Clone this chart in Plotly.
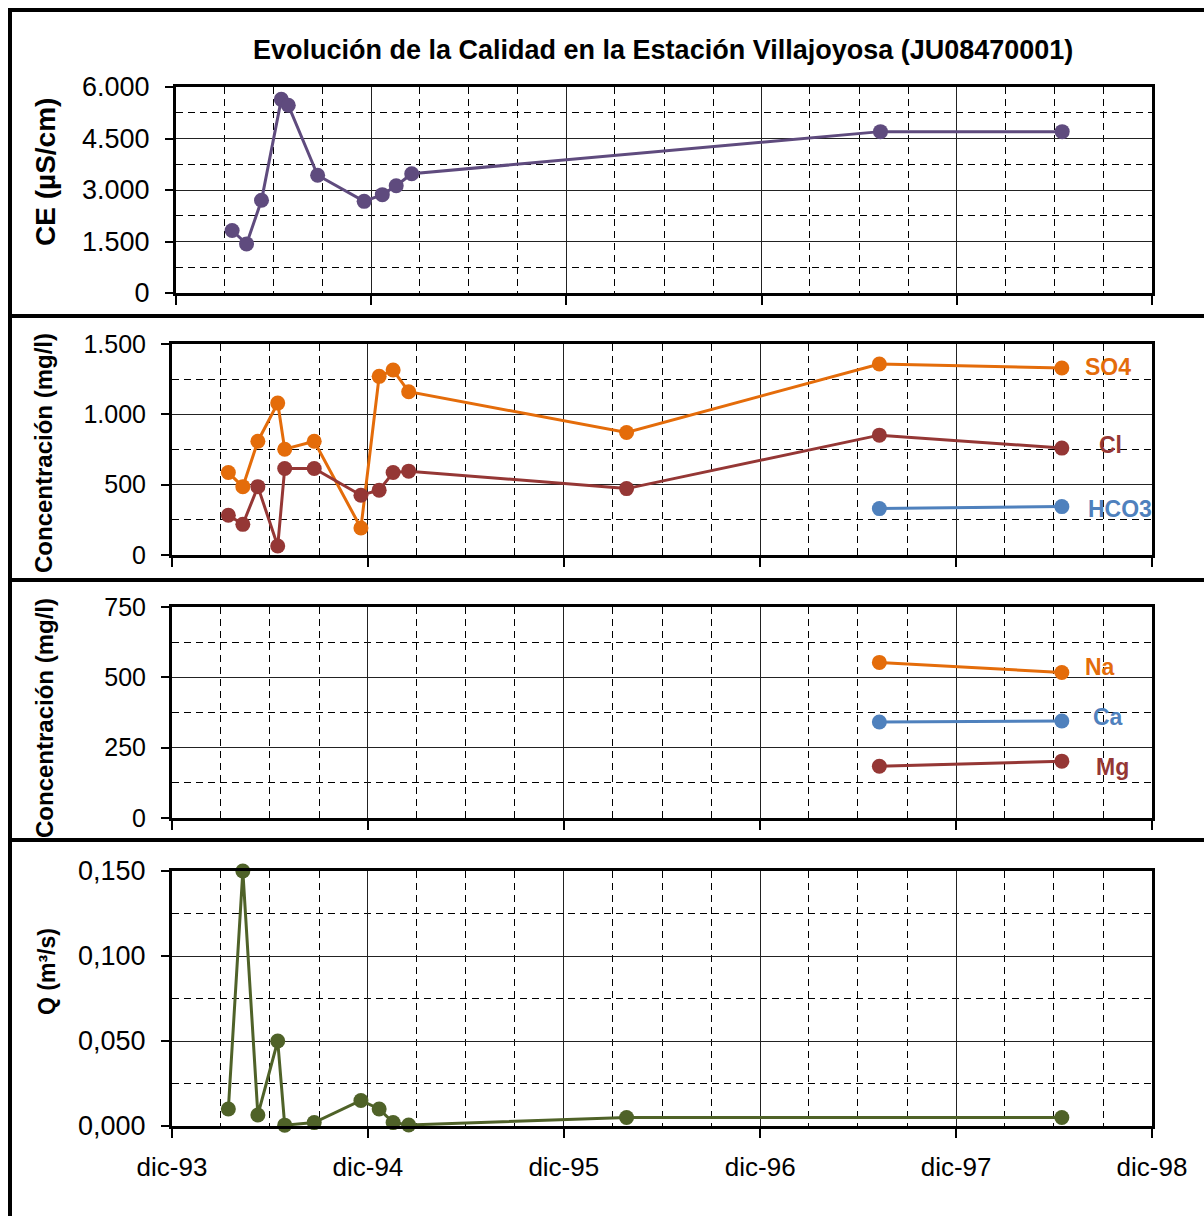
import plotly.graph_objects as go

# ---------------- data ----------------
dates_early = ['1994-03-16', '1994-04-12', '1994-05-10', '1994-06-16', '1994-06-29',
               '1994-08-23', '1994-11-18', '1994-12-22', '1995-01-17', '1995-02-15']
d_1996 = '1996-03-27'
d_1997 = '1997-07-11'
d_1998 = '1998-06-16'

ce_dates = dates_early + [d_1997, d_1998]
ce_vals = [1820, 1430, 2700, 5640, 5470, 3430, 2670, 2865, 3125, 3475, 4700, 4700]

ion_dates = dates_early + [d_1996, d_1997, d_1998]
so4_vals = [586, 486, 809, 1080, 752, 809, 192, 1270, 1315, 1161, 871, 1358, 1329]
cl_vals = [283, 218, 486, 64, 615, 615, 425, 461, 586, 596, 472, 852, 760]
hco3_dates = [d_1997, d_1998]
hco3_vals = [330, 344]

cat_dates = [d_1997, d_1998]
na_vals = [553, 517]
ca_vals = [341, 345]
mg_vals = [184, 202]

q_dates = dates_early + [d_1996, d_1998]
q_vals = [0.010, 0.150, 0.0065, 0.050, 0.0005, 0.002, 0.015, 0.010, 0.002, 0.0006, 0.005, 0.005]

year_ticks = ['1993-12-01', '1994-12-01', '1995-12-01', '1996-12-01', '1997-12-01', '1998-12-01']
year_labels = ['dic-93', 'dic-94', 'dic-95', 'dic-96', 'dic-97', 'dic-98']

title_text = 'Evolución de la Calidad en la Estación Villajoyosa (JU08470001)'

# ---------------- styling ----------------
W, H = 1204, 1216
FONT = 'Liberation Sans, Arial, sans-serif'
C_CE = '#5F4B7E'
C_SO4 = '#E46C0A'
C_CL = '#953735'
C_HCO3 = '#4F81BD'
C_Q = '#4F6228'


def fx(x):
    return x / W


def fy(y):
    return 1 - y / H


# plot areas in pixel coordinates (left, right, top, bottom)
panels = [(176, 1152, 87, 293), (172, 1152, 344, 555), (172, 1152, 607, 818), (172, 1152, 871, 1126)]
yranges = [[0, 6000], [0, 1500], [0, 750], [0, 0.15]]
ymajor = [1500, 500, 250, 0.05]
yminor = [750, 250, 125, 0.025]
yformats = [',.0f', ',.0f', ',.0f', '.3f']
ytickfont = [27, 25, 25, 27]

fig = go.Figure()


def add(x, y, color, i):
    fig.add_trace(go.Scatter(
        x=x, y=y, mode='lines+markers',
        line=dict(color=color, width=3),
        marker=dict(color=color, size=15, line=dict(width=0)),
        cliponaxis=False, showlegend=False,
        xaxis='x' if i == 1 else 'x%d' % i,
        yaxis='y' if i == 1 else 'y%d' % i,
    ))


add(ce_dates, ce_vals, C_CE, 1)
add(ion_dates, so4_vals, C_SO4, 2)
add(ion_dates, cl_vals, C_CL, 2)
add(hco3_dates, hco3_vals, C_HCO3, 2)
add(cat_dates, na_vals, C_SO4, 3)
add(cat_dates, ca_vals, C_HCO3, 3)
add(cat_dates, mg_vals, C_CL, 3)
add(q_dates, q_vals, C_Q, 4)

DASH = '7px,5px'
layout = {}
for i, (l, r, t, b) in enumerate(panels, start=1):
    xk = 'xaxis' if i == 1 else 'xaxis%d' % i
    yk = 'yaxis' if i == 1 else 'yaxis%d' % i
    layout[xk] = dict(
        domain=[fx(l), fx(r)], anchor='y' if i == 1 else 'y%d' % i,
        type='date', range=['1993-12-01', '1998-12-01'],
        tickmode='array', tickvals=year_ticks, ticktext=year_labels,
        showticklabels=(i == 4),
        tickfont=dict(family=FONT, size=26, color='black'),
        ticks='outside', ticklen=9, tickwidth=2, tickcolor='black',
        ticklabelstandoff=7,
        showgrid=True, gridcolor='#222', gridwidth=1,
        minor=dict(tick0='1993-12-01', dtick='M3', showgrid=True, gridcolor='black',
                   gridwidth=1, griddash=DASH, ticks=''),
        showline=True, linecolor='black', linewidth=3, mirror=True,
        zeroline=False, fixedrange=True, automargin=False,
    )
    layout[yk] = dict(
        domain=[fy(b), fy(t)], anchor='x' if i == 1 else 'x%d' % i,
        range=yranges[i - 1], tickmode='linear', tick0=0, dtick=ymajor[i - 1],
        tickformat=yformats[i - 1],
        tickfont=dict(family=FONT, size=ytickfont[i - 1], color='black'),
        ticks='outside', ticklen=8, tickwidth=2, tickcolor='black',
        ticklabelstandoff=10,
        showgrid=True, gridcolor='#222', gridwidth=1,
        minor=dict(tick0=0, dtick=yminor[i - 1], showgrid=True,
                   gridcolor='black', gridwidth=1, griddash=DASH, ticks=''),
        showline=True, linecolor='black', linewidth=3, mirror=True,
        zeroline=False, fixedrange=True, automargin=False,
    )

# panel borders
shapes = []
for (t, b) in [(10, 316), (316, 580), (580, 840), (840, 1240)]:
    shapes.append(dict(type='rect', xref='paper', yref='paper',
                       x0=fx(10), x1=fx(1240), y0=fy(b), y1=fy(t),
                       line=dict(color='black', width=4), fillcolor='rgba(0,0,0,0)',
                       layer='above'))

annotations = [
    dict(text='<b>' + title_text + '</b>', x=fx(663), y=fy(50), xref='paper', yref='paper',
         showarrow=False, font=dict(family=FONT, size=27, color='black'),
         xanchor='center', yanchor='middle'),
    dict(text='<b>CE (µS/cm)</b>', x=fx(45), y=fy(172), xref='paper', yref='paper',
         showarrow=False, textangle=-90, font=dict(family=FONT, size=28, color='black'),
         xanchor='center', yanchor='middle'),
    dict(text='<b>Concentración (mg/l)</b>', x=fx(44), y=fy(453), xref='paper', yref='paper',
         showarrow=False, textangle=-90, font=dict(family=FONT, size=24, color='black'),
         xanchor='center', yanchor='middle'),
    dict(text='<b>Concentración (mg/l)</b>', x=fx(44), y=fy(718), xref='paper', yref='paper',
         showarrow=False, textangle=-90, font=dict(family=FONT, size=24, color='black'),
         xanchor='center', yanchor='middle'),
    dict(text='<b>Q (m³/s)</b>', x=fx(47), y=fy(972), xref='paper', yref='paper',
         showarrow=False, textangle=-90, font=dict(family=FONT, size=23, color='black'),
         xanchor='center', yanchor='middle'),
]

labels = [('SO4', C_SO4, 1083, 367), ('Cl', C_CL, 1097, 445), ('HCO3', C_HCO3, 1086, 509),
          ('Na', C_SO4, 1083, 667), ('Ca', C_HCO3, 1091, 717), ('Mg', C_CL, 1094, 767)]
for txt, col, x, y in labels:
    annotations.append(dict(text='<b>' + txt + '</b>', x=fx(x), y=fy(y), xref='paper', yref='paper',
                            showarrow=False, font=dict(family=FONT, size=23, color=col),
                            xanchor='left', yanchor='middle'))

fig.update_layout(
    width=W, height=H, margin=dict(l=0, r=0, t=0, b=0, pad=0, autoexpand=False),
    paper_bgcolor='white', plot_bgcolor='white',
    separators=',.',
    shapes=shapes, annotations=annotations,
    showlegend=False,
    **layout,
)

fig.write_html('out.html', config={'displayModeBar': False},
               post_script="document.body.style.margin='0';document.body.style.overflow='hidden';")
